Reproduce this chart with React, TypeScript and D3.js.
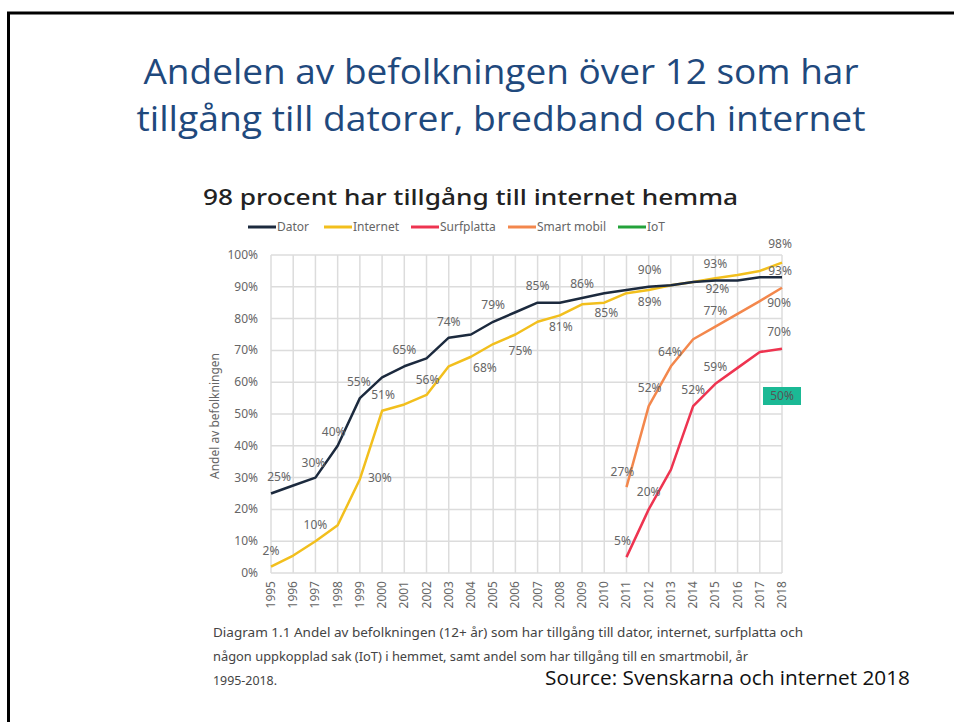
import React from 'react';
import * as d3 from 'd3';

const width = 954;
const height = 722;
const margin = { top: 255, right: 172, bottom: 149, left: 271 };

const years = d3.range(1995, 2019);
const yTicks = [0, 10, 20, 30, 40, 50, 60, 70, 80, 90, 100];

// values in percent
const dator = [25, 27.5, 30, 40, 55, 61.5, 65, 67.5, 74, 75, 79, 82, 85, 85, 86.5, 88, 89, 90, 90.5, 91.5, 92, 92, 93, 93];
const internet = [2, 5.5, 10, 15, 29.5, 51, 53, 56, 65, 68, 72, 75, 79, 81, 84.5, 85, 88, 89, 90.5, 91.5, 92.7, 93.7, 95, 97.6];
const surfplattaYears = [2011, 2012, 2013, 2014, 2015, 2016, 2017, 2018];
const surfplatta = [5, 20, 32.5, 52.5, 59.5, 64.5, 69.5, 70.5];
const smartYears = [2011, 2012, 2013, 2014, 2015, 2016, 2017, 2018];
const smartMobil = [27, 52.5, 65, 73.5, 77.5, 81.5, 85.5, 89.7];
const iotYear = 2018;
const iotValue = 50;

const colors = {
  dator: '#1c2a3e',
  internet: '#f2bf1d',
  surfplatta: '#ee3450',
  smart: '#f3874c',
  iot: '#23a23a'
};

const legendItems = [
  { name: 'Dator', color: colors.dator },
  { name: 'Internet', color: colors.internet },
  { name: 'Surfplatta', color: colors.surfplatta },
  { name: 'Smart mobil', color: colors.smart },
  { name: 'IoT', color: colors.iot }
];
const legendX = [248, 324, 411, 508, 618];

// value labels: [series, year, value, dx, dy]
const labels: [string, number, number, number, number][] = [
  ['dator', 1995, 25, 8, -17],
  ['dator', 1997, 30, -2, -15],
  ['dator', 1998, 40, -4, -14],
  ['dator', 1999, 55, -1, -16],
  ['dator', 2001, 65, 0, -16],
  ['dator', 2003, 74, 0, -16],
  ['dator', 2005, 79, 0, -17],
  ['dator', 2007, 85, 0, -17],
  ['dator', 2009, 86, 0, -16],
  ['dator', 2012, 90, 1, -17],
  ['dator', 2015, 92, 2, 9],
  ['dator', 2018, 93, -2, -6],
  ['internet', 1995, 2, 0, -16],
  ['internet', 1997, 10, 0, -16],
  ['internet', 1999, 30, 20, 0],
  ['internet', 2000, 51, 1, -16],
  ['internet', 2002, 56, 1, -15],
  ['internet', 2004, 68, 14, 11],
  ['internet', 2006, 75, 5, 16],
  ['internet', 2008, 81, 1, 12],
  ['internet', 2010, 85, 2, 10],
  ['internet', 2012, 89, 1, 12],
  ['internet', 2015, 93, 0, -13],
  ['internet', 2018, 98, -2, -17],
  ['smart', 2011, 27, -4, -15],
  ['smart', 2012, 52, 1, -20],
  ['smart', 2013, 64, -1, -17],
  ['smart', 2015, 77, 0, -17],
  ['smart', 2018, 90, -3, 16],
  ['surfplatta', 2011, 5, -4, -16],
  ['surfplatta', 2012, 20, 0, -17],
  ['surfplatta', 2014, 52, 0, -18],
  ['surfplatta', 2015, 59, 0, -18],
  ['surfplatta', 2018, 70, -3, -18]
];

const captionLines = [
  'Diagram 1.1 Andel av befolkningen (12+ år) som har tillgång till dator, internet, surfplatta och',
  'någon uppkopplad sak (IoT) i hemmet, samt andel som har tillgång till en smartmobil, år',
  '1995-2018.'
];
const captionWidths = [590, 535, 64];

const chartFont = "'Noto Sans', 'DejaVu Sans', sans-serif";

export default function App() {
  const x = d3.scaleLinear().domain([1995, 2018]).range([margin.left, width - margin.right]);
  const y = d3.scaleLinear().domain([0, 100]).range([height - margin.bottom, margin.top]);

  const line = d3.line<[number, number]>().x(d => x(d[0])).y(d => y(d[1]));
  const pairs = (xs: number[], vs: number[]) => xs.map((yr, i) => [yr, vs[i]] as [number, number]);

  const series = [
    { key: 'internet', color: colors.internet, pts: pairs(years, internet) },
    { key: 'dator', color: colors.dator, pts: pairs(years, dator) },
    { key: 'smart', color: colors.smart, pts: pairs(smartYears, smartMobil) },
    { key: 'surfplatta', color: colors.surfplatta, pts: pairs(surfplattaYears, surfplatta) }
  ];

  const [y0, y1] = y.range();
  const iotX = x(iotYear);
  const iotY = y(iotValue) - 18;

  return (
    <div style={{ position: 'absolute', left: 0, top: 0 }}>
      <svg width={width} height={height} style={{ display: 'block', background: '#fff' }}>
        <path d={`M8.5,${height + 5}V13H${width + 5}`} fill="none" stroke="#000" strokeWidth={3} />

        <g fill="#1f497d" fontFamily="'Open Sans', sans-serif" fontSize={35} textAnchor="middle">
          <text x={501} y={84} textLength={715} lengthAdjust="spacingAndGlyphs">Andelen av befolkningen över 12 som har</text>
          <text x={501} y={131} textLength={729} lengthAdjust="spacingAndGlyphs">tillgång till datorer, bredband och internet</text>
        </g>

        <text x={203} y={205} fontFamily={chartFont} fontSize={22} fontWeight={500} fill="#222"
          textLength={535} lengthAdjust="spacingAndGlyphs">98 procent har tillgång till internet hemma</text>

        {/* legend */}
        <g fontFamily={chartFont} fontSize={12} fill="#666">
          {legendItems.map((d, i) => (
            <g key={d.name} transform={`translate(${legendX[i]},227)`}>
              <line x1={0} x2={28} y1={0} y2={0} stroke={d.color} strokeWidth={3} />
              <text x={29} y={4}>{d.name}</text>
            </g>
          ))}
        </g>

        {/* grid */}
        <g stroke="#dcdcdc" strokeWidth={1.5}>
          {years.map(yr => <line key={yr} x1={x(yr)} x2={x(yr)} y1={y0} y2={y1} />)}
          {yTicks.map(t => <line key={t} x1={x(1995)} x2={x(2018)} y1={y(t)} y2={y(t)} />)}
        </g>

        {/* axes labels */}
        <g fontFamily={chartFont} fontSize={12} fill="#666">
          {yTicks.map(t => (
            <text key={t} x={258} y={y(t) + 4} textAnchor="end">{t}%</text>
          ))}
          {years.map(yr => (
            <text key={yr} transform={`translate(${x(yr) + 4},581) rotate(-90)`} textAnchor="end">{yr}</text>
          ))}
          <text transform={`translate(219,${y(50) + 2}) rotate(-90)`} textAnchor="middle">Andel av befolkningen</text>
        </g>

        {/* lines */}
        {series.map(s => (
          <path key={s.key} d={line(s.pts) || ''} fill="none" stroke={s.color} strokeWidth={2.5} strokeLinejoin="round" />
        ))}

        {/* value labels */}
        <g fontFamily={chartFont} fontSize={12} fill="#666" textAnchor="middle">
          {labels.map(([k, yr, v, dx, dy]) => (
            <text key={k + yr} x={x(yr) + dx} y={y(v) + dy + 4}>{v}%</text>
          ))}
        </g>

        {/* IoT */}
        <rect x={iotX - 19} y={iotY - 9} width={38} height={18} fill="#1bb995" />
        <text x={iotX} y={iotY + 4} textAnchor="middle" fontFamily={chartFont} fontSize={12} fill="#555">{iotValue}%</text>

        {/* caption */}
        <g fontFamily={chartFont} fontSize={12} fill="#444">
          {captionLines.map((t, i) => (
            <text key={i} x={213} y={637 + i * 24} textLength={captionWidths[i]} lengthAdjust="spacingAndGlyphs">{t}</text>
          ))}
        </g>

        <text x={545} y={685} fontFamily="'Open Sans', sans-serif" fontSize={20} fill="#111"
          textLength={365} lengthAdjust="spacingAndGlyphs">Source: Svenskarna och internet 2018</text>
      </svg>
    </div>
  );
}
